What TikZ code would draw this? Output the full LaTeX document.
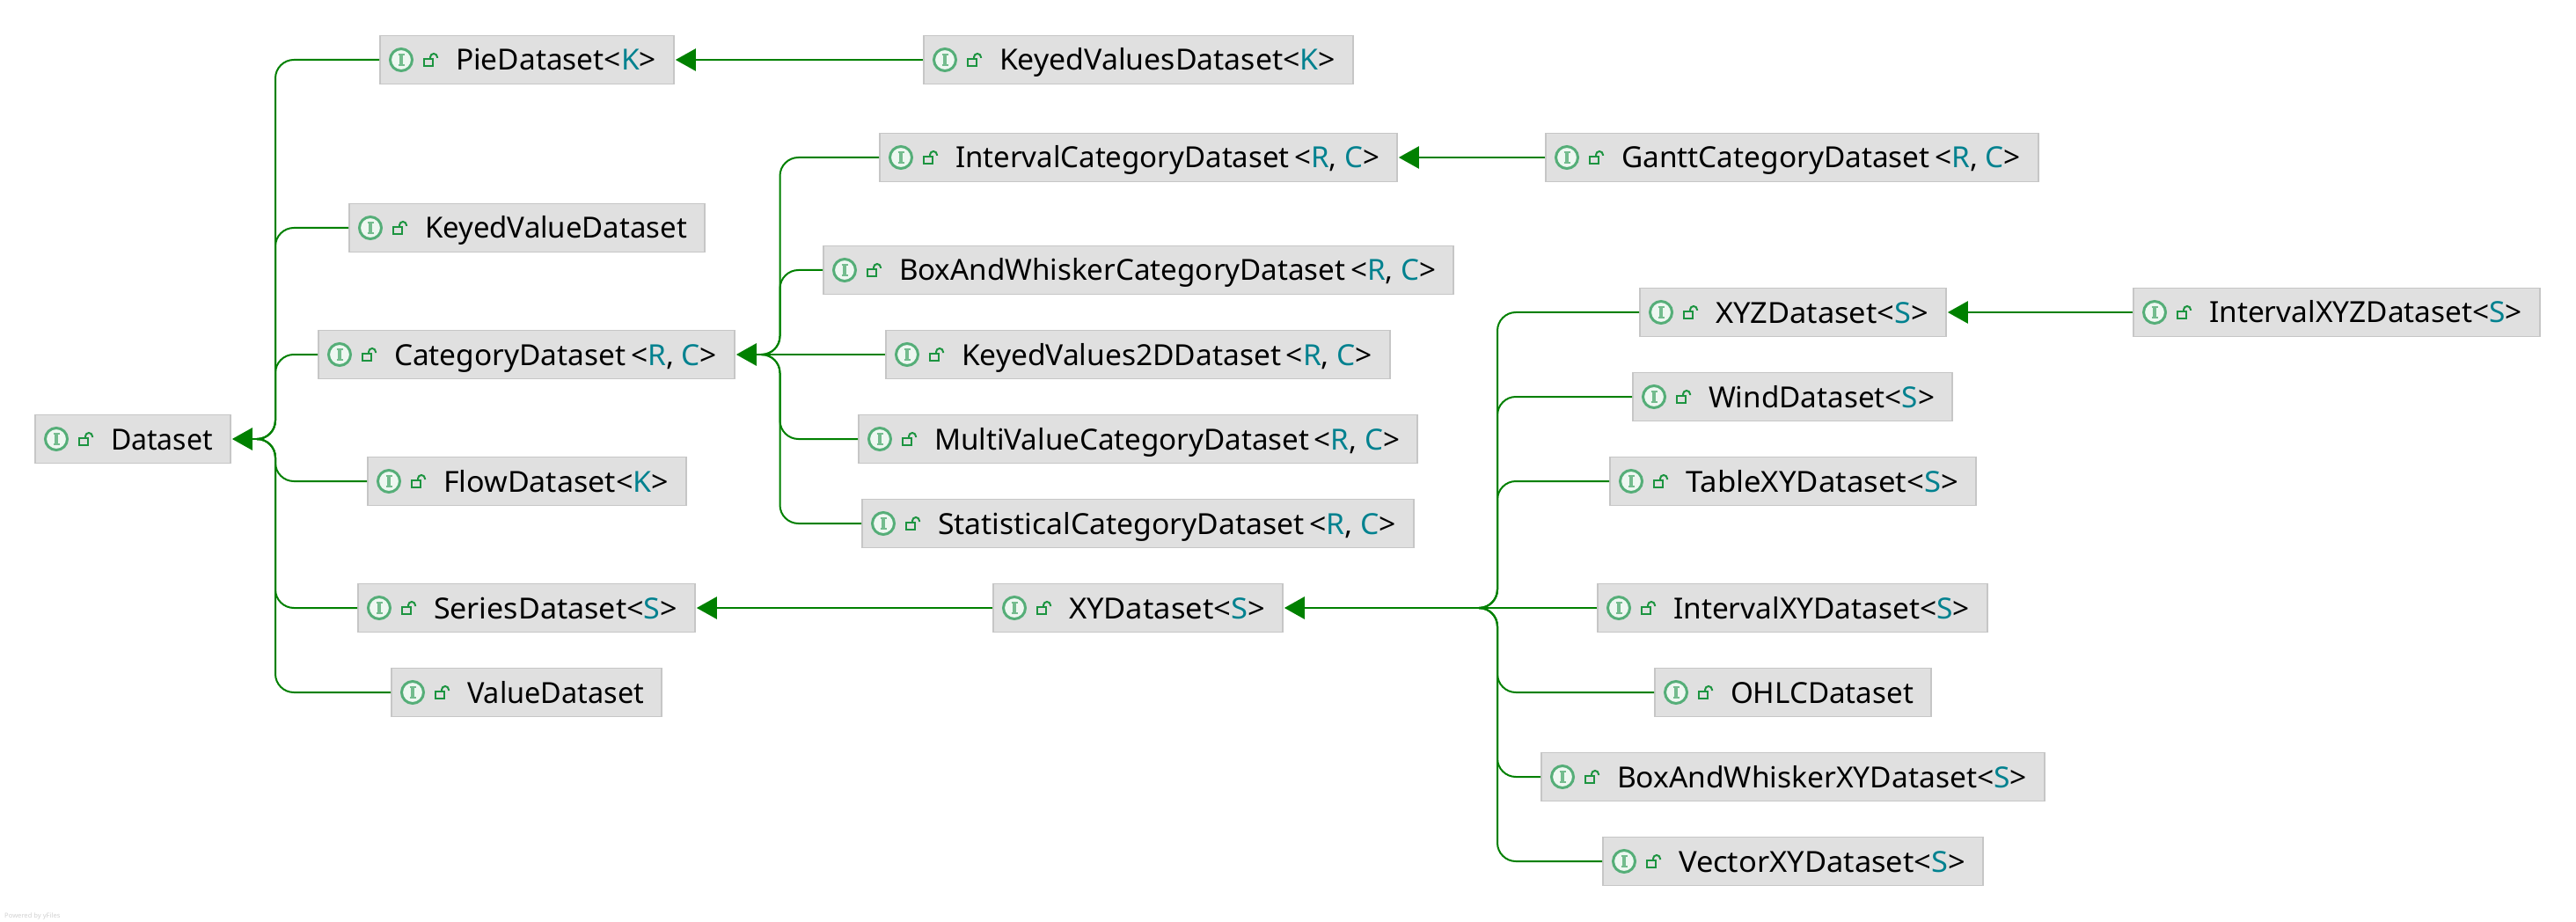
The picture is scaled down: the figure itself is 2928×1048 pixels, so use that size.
\documentclass[tikz,border=0pt]{standalone}
\usepackage{graphicx}
\usepackage{fontspec}
\setmainfont{Noto Sans}
\usetikzlibrary{arrows.meta}
\definecolor{boxfill}{HTML}{E0E0E0}
\definecolor{boxline}{HTML}{C6C6C6}
\definecolor{edgegreen}{HTML}{008000}
\definecolor{typeteal}{HTML}{00818F}
\definecolor{ringgreen}{HTML}{55AE78}
\definecolor{ringfill}{HTML}{EEF7F1}
\definecolor{barg}{HTML}{74BC8E}
\definecolor{lockgreen}{HTML}{1C9440}
\newcommand{\tv}[1]{\textcolor{typeteal}{#1}}
\newcommand{\la}{\textbf{<}}
\newcommand{\ra}{\textbf{>}}
\tikzset{
  x=1pt,y=-1pt,
  classbox/.style={draw=boxline,fill=boxfill,line width=1.6pt,inner sep=0pt,minimum height=55pt,font=\fontsize{33}{36}\selectfont,text=black},
  ring/.style={draw=ringgreen,fill=ringfill,line width=3pt},
  ibar/.style={draw=barg,line width=2.6pt},
  istem/.style={draw=barg,line width=3.4pt},
  lockline/.style={draw=lockgreen,line width=2pt},
  edge/.style={draw=edgegreen,line width=2pt,rounded corners=21pt},
  stem/.style={draw=edgegreen,line width=2.8pt,-{Triangle[length=23pt,width=25pt]}},
}
% name, left, right, centre y, text
\newcommand{\cls}[5]{%
  \pgfmathsetmacro{\cw}{#3-#2}%
  \pgfmathsetmacro{\tw}{#3-#2-106}%
  \pgfmathsetmacro{\cx}{(#2+#3)/2}%
  \node[classbox,minimum width=\cw pt] (#1) at (\cx,#4)
    {\makebox[\cw pt][l]{\hspace{86pt}\rule[-12pt]{0pt}{48pt}\resizebox{\tw pt}{\height}{#5}}};
  \draw[ring] (#2+24,#4) circle (12.5);
  \draw[ibar] (#2+20.5,#4-6) -- (#2+27.5,#4-6) (#2+20.5,#4+6) -- (#2+27.5,#4+6);
  \draw[istem] (#2+24,#4-6) -- (#2+24,#4+6);
  \draw[lockline] (#2+50,#4-1) rectangle (#2+60,#4+7);
  \draw[lockline] (#2+57,#4-1) -- (#2+57,#4-3) arc[start angle=180,end angle=360,radius=4] -- (#2+65,#4-2);
}
\begin{document}
\begin{tikzpicture}
\useasboundingbox (0,0) rectangle (2928,1048);
\cls{dataset}{40}{262}{499}{Dataset}
\cls{pie}{432}{766}{68}{PieDataset\la\tv{K}\ra}
\cls{keyedvalue}{397}{801}{259}{KeyedValueDataset}
\cls{category}{362}{835}{403}{CategoryDataset\,\la\tv{R}, \tv{C}\ra}
\cls{flow}{418}{780}{547}{FlowDataset\la\tv{K}\ra}
\cls{series}{407}{790}{691}{SeriesDataset\la\tv{S}\ra}
\cls{value}{445}{752}{787}{ValueDataset}
\cls{keyedvalues}{1050}{1538}{68}{KeyedValuesDataset\la\tv{K}\ra}
\cls{intervalcat}{1000}{1588}{179}{IntervalCategoryDataset\,\la\tv{R}, \tv{C}\ra}
\cls{gantt}{1757}{2317}{179}{GanttCategoryDataset\,\la\tv{R}, \tv{C}\ra}
\cls{boxcat}{936}{1652}{307}{BoxAndWhiskerCategoryDataset\,\la\tv{R}, \tv{C}\ra}
\cls{keyed2d}{1007}{1580}{403}{KeyedValues2DDataset\,\la\tv{R}, \tv{C}\ra}
\cls{multi}{976}{1611}{499}{MultiValueCategoryDataset\,\la\tv{R}, \tv{C}\ra}
\cls{stat}{980}{1607}{595}{StatisticalCategoryDataset\,\la\tv{R}, \tv{C}\ra}
\cls{xy}{1129}{1458}{691}{XYDataset\la\tv{S}\ra}
\cls{xyz}{1864}{2212}{355}{XYZDataset\la\tv{S}\ra}
\cls{intervalxyz}{2425}{2887}{355}{IntervalXYZDataset\la\tv{S}\ra}
\cls{wind}{1856}{2219}{451}{WindDataset\la\tv{S}\ra}
\cls{table}{1830}{2246}{547}{TableXYDataset\la\tv{S}\ra}
\cls{intervalxy}{1816}{2259}{691}{IntervalXYDataset\la\tv{S}\ra}
\cls{ohlc}{1881}{2195}{787}{OHLCDataset}
\cls{boxxy}{1752}{2324}{883}{BoxAndWhiskerXYDataset\la\tv{S}\ra}
\cls{vector}{1822}{2254}{979}{VectorXYDataset\la\tv{S}\ra}
% junctions
\coordinate (ta) at (313,499);   \coordinate (ja) at (294,499);
\coordinate (tb) at (886.5,403); \coordinate (jb) at (868,403);
\coordinate (tc) at (1702,691);  \coordinate (jc) at (1684,691);
% first level
\foreach \c in {pie,keyedvalue,category,flow,series,value}
  \draw[edge] (\c.west) -| (ta) -- (ja);
\draw[stem] (ja) -- ([xshift=1pt]dataset.east);
% category children
\foreach \c in {intervalcat,boxcat,multi,stat}
  \draw[edge] (\c.west) -| (tb) -- (jb);
\draw[edge] (keyed2d.west) -- (jb);
\draw[stem] (jb) -- ([xshift=1pt]category.east);
% xy children
\foreach \c in {xyz,wind,table,ohlc,boxxy,vector}
  \draw[edge] (\c.west) -| (tc) -- (jc);
\draw[edge] (intervalxy.west) -- (jc);
\draw[stem] (jc) -- ([xshift=1pt]xy.east);
% straight inheritance
\draw[stem,line width=2.4pt] (keyedvalues.west) -- ([xshift=1pt]pie.east);
\draw[stem,line width=2.4pt] (gantt.west) -- ([xshift=1pt]intervalcat.east);
\draw[stem,line width=2.4pt] (xy.west) -- ([xshift=1pt]series.east);
\draw[stem,line width=2.4pt] (intervalxyz.west) -- ([xshift=1pt]xyz.east);
\node[anchor=base west,inner sep=0pt,text=black!18,font=\fontsize{7.6}{9}\selectfont] (credit) at (5,1043) {Powered by yFiles};
\end{tikzpicture}
\end{document}
